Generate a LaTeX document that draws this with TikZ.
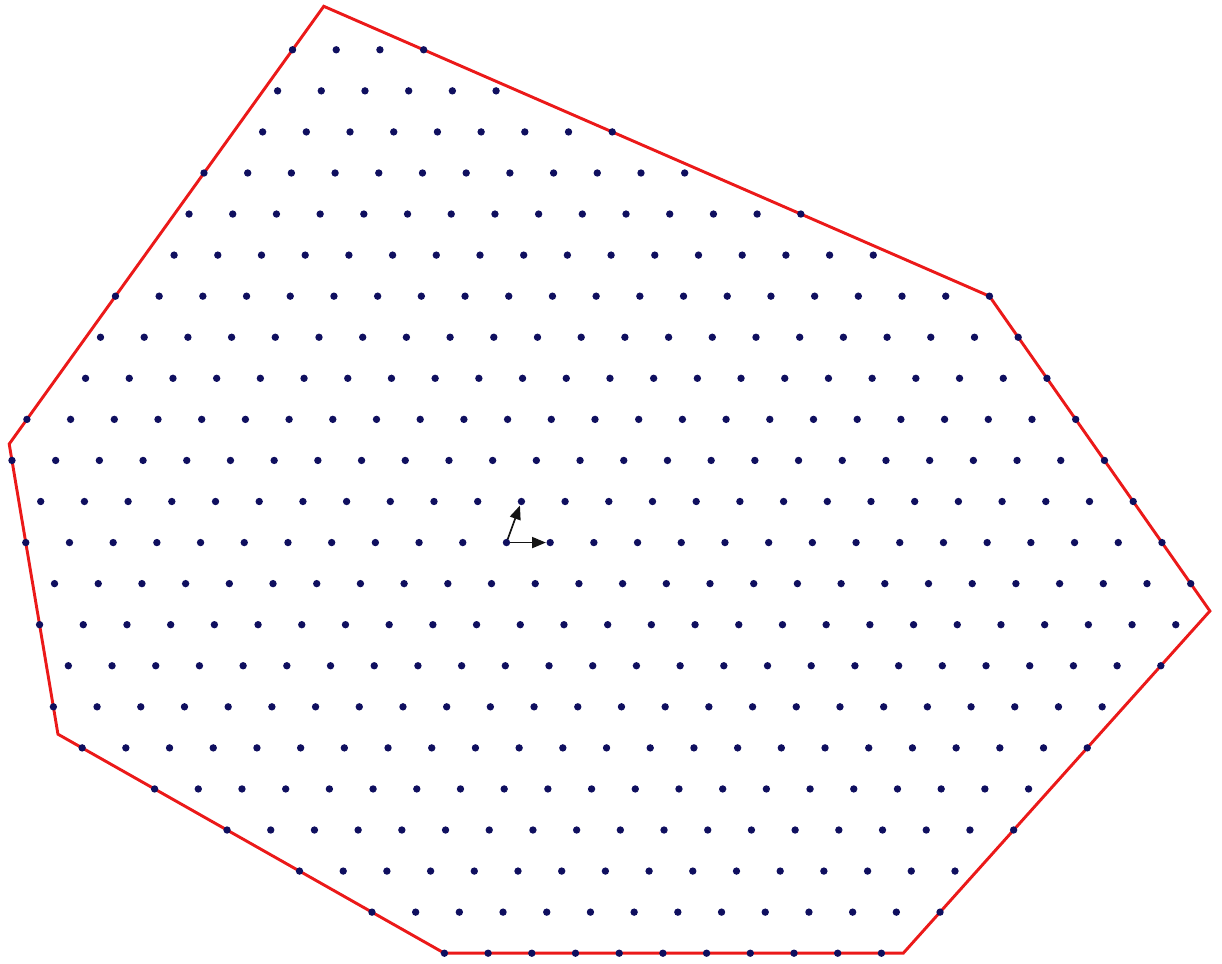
\documentclass[tikz,border=0pt]{standalone}
\usepackage{xcolor}
\usepackage{tikz}
\usetikzlibrary{arrows.meta}
\definecolor{myred}{RGB}{235,25,25}
\definecolor{mynavy}{RGB}{15,15,95}
\definecolor{mydark}{RGB}{20,20,20}
\tikzset{
  hull/.style={draw=myred, line width=0.95pt, line join=miter},
  latpt/.style={fill=mynavy},
  basis/.style={-{Triangle[length=4.5pt,width=3.6pt]}, line width=0.55pt,
    color=mydark, shorten >=1.4pt}
}

\begin{document}
\begin{tikzpicture}[x={(0.5cm,0cm)}, y={(70:0.5cm)}]
  \useasboundingbox (-5.795cm,-4.822cm) rectangle (8.187cm,6.208cm);

  % Convex hull (lattice coordinates)
  \draw[hull] (-8.647,13.059) -- (9,6) -- (16.667,-1.667) -- (12.5,-10)
    -- (2,-10) -- (-8.667,-4.667) -- (-12.2,2.4) -- cycle;

  % Basis vectors
  \coordinate (o) at (0,0);
  \coordinate (e1) at (1,0);
  \coordinate (e2) at (0,1);
  \draw[basis] (o) -- (e1);
  \draw[basis] (o) -- (e2);

  % Lattice points inside the hull, row by row
  \foreach \j/\imin/\imax in {12/-9/-6, 11/-9/-4, 10/-9/-1, 9/-10/1, 8/-10/4,
      7/-10/6, 6/-11/9, 5/-11/10, 4/-11/11, 3/-12/12, 2/-12/13, 1/-11/14,
      0/-11/15, -1/-10/16, -2/-10/16, -3/-9/16, -4/-9/15, -5/-8/15,
      -6/-6/14, -7/-4/14, -8/-2/13, -9/0/13, -10/2/12}
    \foreach \i in {\imin,...,\imax}
      \fill[latpt] (\i,\j) circle (1.2pt);
\end{tikzpicture}
\end{document}
